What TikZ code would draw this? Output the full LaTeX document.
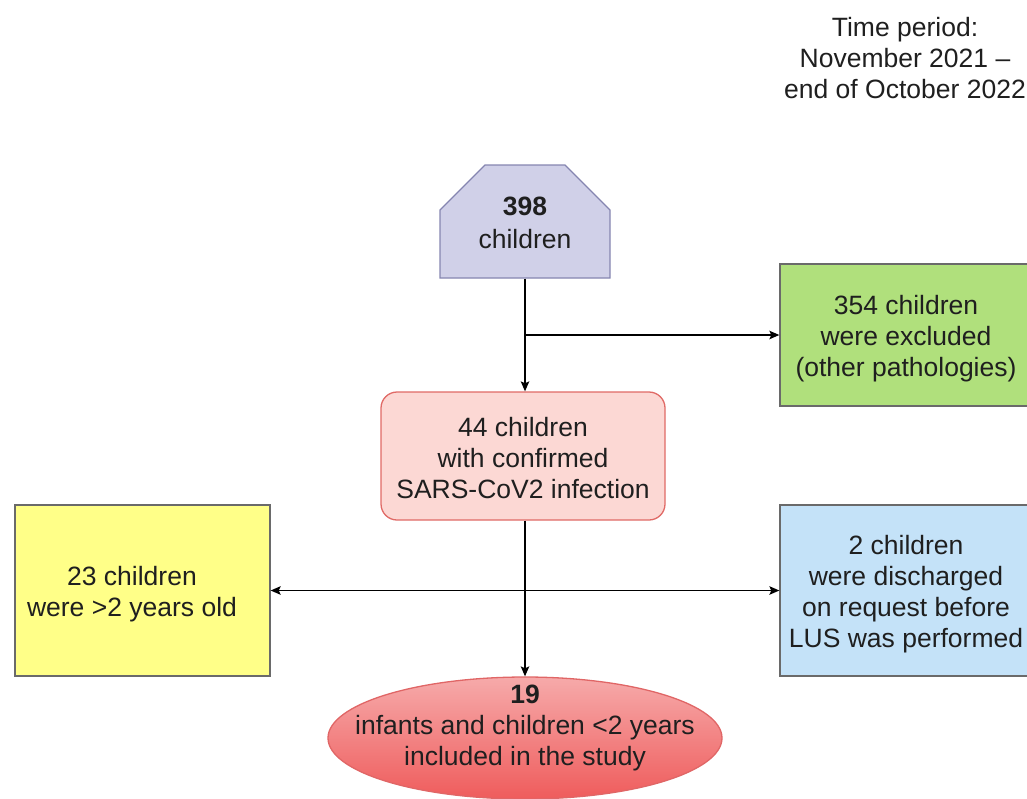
\documentclass[tikz,border=0pt]{standalone}
\usepackage{fontspec}
\setmainfont{Liberation Sans}
\usetikzlibrary{shapes.misc,shapes.geometric,arrows.meta}
\definecolor{lavfill}{HTML}{D0D0E8}
\definecolor{lavline}{HTML}{8585B0}
\definecolor{greenfill}{HTML}{B0E07C}
\definecolor{pinkfill}{HTML}{FCD8D4}
\definecolor{pinkline}{HTML}{E06A66}
\definecolor{yellowfill}{HTML}{FFFF88}
\definecolor{bluefill}{HTML}{C4E2F8}
\definecolor{boxline}{HTML}{6A6A6A}
\definecolor{ellline}{HTML}{E06666}
\definecolor{elltop}{HTML}{F6AAAA}
\definecolor{ellbot}{HTML}{EF5C5C}
\newcommand\tsh{\rule{0pt}{26pt}}
\tikzset{
  txt/.style={font=\fontsize{26.5}{31}\selectfont, align=center, inner sep=0pt, text=black!88},
  boxnode/.style={txt, rectangle, line width=1.3pt},
  conn/.style={line width=1.5pt, black},
  arr/.style={conn, -{Stealth[length=10pt,width=8.5pt,inset=2pt]}},
  darr/.style={conn, {Stealth[length=10pt,width=8.5pt,inset=2pt]}-{Stealth[length=10pt,width=8.5pt,inset=2pt]}},
}
\begin{document}
\begin{tikzpicture}[x=1pt,y=-1pt]
\useasboundingbox (0,0) rectangle (1027,798);

\node[txt] (period) at (905,58.5) {Time period:\\November 2021 --\\end of October 2022};

\node[boxnode, chamfered rectangle, chamfered rectangle corners={north west,north east},
      chamfered rectangle xsep=22pt, chamfered rectangle ysep=23pt,
      minimum width=170pt, minimum height=113pt, fill=lavfill, draw=lavline,
      font=\fontsize{26.5}{33}\selectfont] (all) at (525,221.5)
      {\rule{0pt}{22pt}\textbf{398}\\children};

\node[boxnode, minimum width=252pt, minimum height=142pt, fill=greenfill, draw=boxline] (excl) at (906,335)
      {\tsh 354 children\\were excluded\\(other pathologies)};

\node[boxnode, rounded corners=16pt, minimum width=284pt, minimum height=128pt, fill=pinkfill, draw=pinkline] (covid) at (523,456)
      {\rule{0pt}{23pt}44 children\\with confirmed\\SARS-CoV2 infection};

\node[boxnode, minimum width=255pt, minimum height=171pt, fill=yellowfill, draw=boxline] (older) at (142.5,590.5) {};
\node[txt] (oldertxt) at (132,594) {23 children\\were {>}2 years old};

\node[boxnode, minimum width=252pt, minimum height=171pt, fill=bluefill, draw=boxline] (disch) at (906,590.5)
      {\tsh 2 children\\were discharged\\on request before\\LUS was performed};

\node[ellipse, minimum width=394pt, minimum height=122pt, draw=ellline, line width=1.3pt,
      top color=elltop, bottom color=ellbot, inner sep=0pt] (incl) at (525,738) {};
\node[txt] (incltxt) at (525,728) {\textbf{19}\\infants and children {<}2 years\\included in the study};

\coordinate (branch) at (all.south |- excl.west);
\draw[arr] (all.south) -- (all.south |- covid.north);
\draw[arr] (branch) -- (excl.west);
\draw[arr] (all.south |- covid.south) -- (all.south |- incl.north);
\draw[darr] (older.east) -- (disch.west);
\end{tikzpicture}
\end{document}
